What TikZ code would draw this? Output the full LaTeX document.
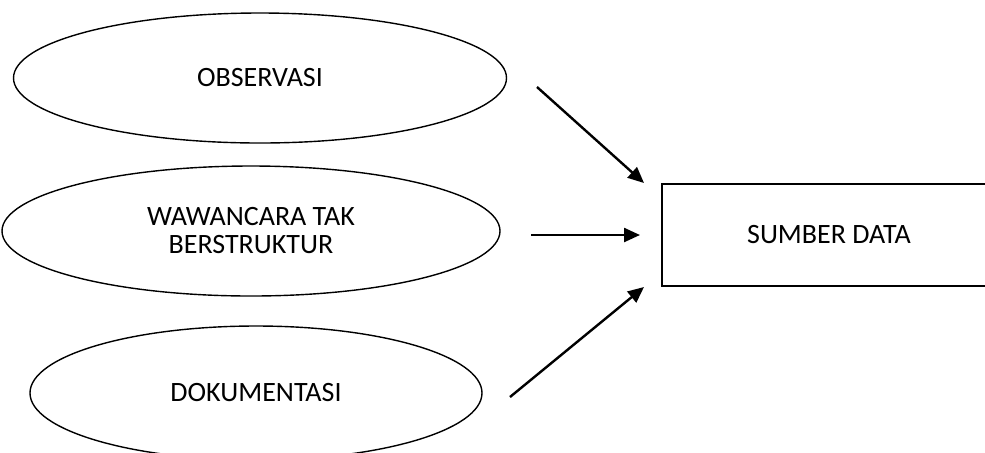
\documentclass[tikz,border=0pt]{standalone}
\usepackage{fontspec}
\setmainfont{Carlito}
\usetikzlibrary{arrows.meta,shapes.geometric,positioning}

\begin{document}
\begin{tikzpicture}[x=0.5pt, y=-0.5pt, >={Triangle[length=8pt,width=7pt]},
    font=\fontsize{14}{14}\selectfont,
    method/.style={ellipse, draw=black, line width=0.7pt, inner sep=0pt, align=center},
    source/.style={rectangle, draw=black, line width=0.8pt, inner sep=0pt},
    flow/.style={->, line width=1.2pt, draw=black}]

    % Canvas
    \useasboundingbox (0,0) rectangle (985,452);
    \clip (0,0) rectangle (985,452);

    % === COLLECTION METHODS ===
    \node[method, minimum width=246.5pt, minimum height=65pt] (obs) at (260,78) {OBSERVASI};
    \node[method, minimum width=249pt, minimum height=65pt] (waw) at (251,231) {WAWANCARA TAK\\BERSTRUKTUR};
    \node[method, minimum width=226pt, minimum height=67pt] (dok) at (256,393) {DOKUMENTASI};

    % === DATA SOURCE ===
    \node[source, minimum width=167pt, minimum height=51pt] (data) at (829,235) {SUMBER DATA};

    % === ARROWS ===
    \coordinate (obsout) at (537,87);
    \coordinate (wawout) at (531,235);
    \coordinate (dokout) at (510,397);
    \coordinate (datatop) at (644,183);
    \coordinate (datamid) at (640,235);
    \coordinate (databot) at (644,287);

    \draw[flow] (obsout) -- (datatop);
    \draw[flow] (wawout) -- (datamid);
    \draw[flow] (dokout) -- (databot);

\end{tikzpicture}
\end{document}
